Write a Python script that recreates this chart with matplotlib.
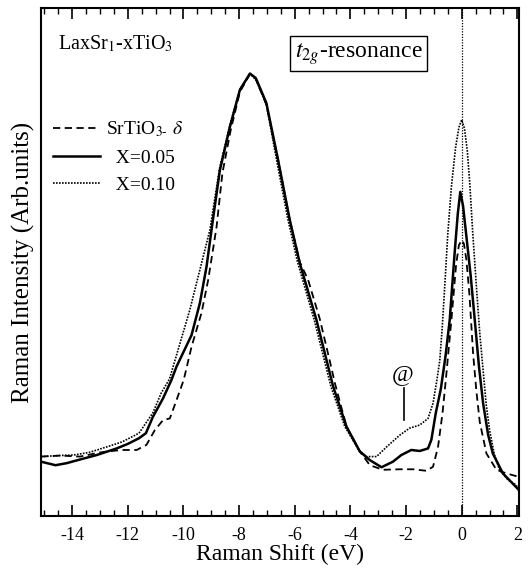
import matplotlib
matplotlib.use("Agg")
import matplotlib.pyplot as plt

plt.rcParams['font.family'] = ['Liberation Serif', 'DejaVu Serif']
plt.rcParams['mathtext.fontset'] = 'stix'

# SrTiO3-delta (dashed)
x_sto = [-15.12, -14.4, -13.72, -13.0, -12.76, -12.2, -11.68, -11.33, -11.03, -10.73,
         -10.49, -10.25, -9.99, -9.71, -9.35, -9.11, -8.81, -8.6, -8.3, -7.97,
         -7.61, -7.4, -7.02, -6.6, -6.18, -5.82, -5.52, -5.1, -4.74, -4.55,
         -4.14, -3.66, -3.3, -2.83, -2.23, -1.75, -1.27, -1.03, -0.85, -0.69,
         -0.57, -0.37, -0.2, -0.1, 0.0, 0.08, 0.17, 0.28, 0.41, 0.53, 0.65, 0.89,
         1.25, 1.6, 2.06]
y_sto = [11.7, 11.9, 11.7, 12.5, 12.7, 13.0, 13.0, 14.0, 16.9, 18.9,
         19.2, 22.8, 26.8, 33.3, 40.0, 46.5, 56.9, 67.5, 76.0, 83.5,
         87.0, 86.0, 81.0, 70.1, 58.3, 50.0, 46.5, 38.8, 30.5, 26.0,
         17.6, 12.7, 10.0, 9.1, 9.2, 9.2, 8.9, 9.7, 13.6, 20.2,
         26.8, 38.6, 49.5, 53.3, 54.3, 53.6, 50.4, 43.5, 32.0, 24.5, 18.5, 12.3,
         9.1, 8.4, 7.7]

# X = 0.05 (solid)
x_005 = [-15.12, -14.6, -14.2, -13.8, -13.12, -12.4, -12.0, -11.6, -11.35, -11.1,
         -10.73, -10.43, -10.25, -9.71, -9.41, -9.17, -8.95, -8.69, -8.33, -7.97,
         -7.61, -7.4, -7.02, -6.6, -6.18, -5.82, -5.22, -4.62, -4.14, -3.66,
         -3.3, -2.88, -2.47, -2.17, -1.81, -1.51, -1.21, -1.09, -0.93, -0.75,
         -0.58, -0.43, -0.25, -0.14, -0.05, 0.05, 0.17, 0.32, 0.47, 0.62, 0.77, 0.95,
         1.12, 1.48, 2.06]
y_005 = [10.7, 10.0, 10.4, 11.0, 12.0, 13.3, 14.2, 15.3, 16.3, 19.5,
         23.2, 26.8, 29.4, 35.6, 41.9, 49.1, 58.0, 68.1, 76.6, 83.9,
         87.1, 86.2, 81.3, 70.1, 58.3, 49.8, 38.6, 25.5, 17.6, 12.7,
         11.0, 9.6, 10.7, 12.0, 13.0, 12.8, 13.3, 15.0, 20.3, 25.0,
         31.5, 38.6, 52.0, 59.5, 63.8, 61.0, 55.0, 47.5, 38.6, 29.5, 22.2, 16.0,
         12.3, 8.4, 5.1]

# X = 0.10 (dotted)
x_010 = [-15.12, -14.5, -13.96, -13.4, -12.76, -12.2, -11.6, -11.1, -10.8, -10.5,
         -9.77, -9.05, -8.7, -8.33, -7.97, -7.61, -7.4, -7.02, -6.65, -6.25,
         -5.9, -5.3, -4.7, -4.2, -3.7, -3.42, -3.06, -2.7, -2.23, -1.87,
         -1.51, -1.21, -1.03, -0.89, -0.79, -0.7, -0.61, -0.5, -0.37, -0.22, -0.1, 0.0,
         0.1, 0.2, 0.29, 0.4, 0.53, 0.65, 0.77, 0.88, 1.0, 1.18, 1.36, 1.65, 1.96, 2.06]
y_010 = [11.7, 11.9, 12.0, 12.5, 13.6, 14.6, 16.3, 20.3, 24.2, 27.0,
         40.6, 56.3, 68.5, 77.0, 84.0, 87.0, 86.0, 81.0, 70.0, 58.5,
         50.0, 38.6, 25.5, 17.6, 13.0, 11.7, 11.7, 13.6, 15.9, 17.3,
         17.9, 19.2, 22.2, 26.8, 30.5, 37.0, 45.1, 55.5, 64.8, 72.5, 76.5, 78.0,
         76.3, 72.0, 65.5, 55.5, 45.1, 36.0, 28.7, 22.0, 17.0, 12.0, 9.1, 7.2, 6.1, 4.7]

fig = plt.figure(figsize=(5.31, 5.70), dpi=100)
ax = fig.add_axes([0.0772, 0.0947, 0.9002, 0.8913])

ax.plot(x_sto, y_sto, color='black', lw=1.3, linestyle=(0, (4, 2.5)),
        label='SrTiO$_{3\\text{-}}$ $\\delta$')
ax.plot(x_005, y_005, color='black', lw=1.8, linestyle='-', label='  X=0.05')
ax.plot(x_010, y_010, color='black', lw=1.2, linestyle=(0, (1, 0.8)), label='  X=0.10')

ax.axvline(0, color='black', lw=0.9, linestyle=(0, (1, 1.2)))

ax.set_xlim(-15.12, 2.06)
ax.set_ylim(0, 100)
ax.set_xticks(range(-14, 3, 2))
ax.set_xticks([v / 2 for v in range(-30, 5)], minor=True)
ax.set_xticklabels([str(v) for v in range(-14, 3, 2)])
ax.set_yticks([])
ax.tick_params(axis='x', which='major', direction='in', length=8, width=1.2,
               top=True, labelsize=13, pad=8)
ax.tick_params(axis='x', which='minor', direction='in', length=4, width=1.0, top=True)
for s in ax.spines.values():
    s.set_linewidth(1.5)

ax.set_xlabel('Raman Shift (eV)', fontsize=17, labelpad=0)
ax.set_ylabel('Raman Intensity (Arb.units)', fontsize=18, labelpad=4)

ax.text(0.035, 0.93, 'LaxSr$_{\\rm 1}$-xTiO$_{\\rm 3}$', transform=ax.transAxes,
        fontsize=14.5, va='center', ha='left')
ax.text(0.665, 0.91, '$t_{2g}$-resonance', transform=ax.transAxes, fontsize=17,
        va='center', ha='center',
        bbox=dict(boxstyle='square,pad=0.2', facecolor='white', edgecolor='black', lw=1.0))

ax.text(-2.12, 27.8, '@', fontsize=17, ha='center', va='center')
ax.plot([-2.08, -2.08], [18.9, 25.2], color='black', lw=1.2)

ax.legend(loc='upper left', bbox_to_anchor=(0.025, 0.78), frameon=False, fontsize=14,
          handlelength=2.4, handletextpad=0.35, labelspacing=0.5,
          borderpad=0, borderaxespad=0)

fig.savefig('out.png', dpi=100)
